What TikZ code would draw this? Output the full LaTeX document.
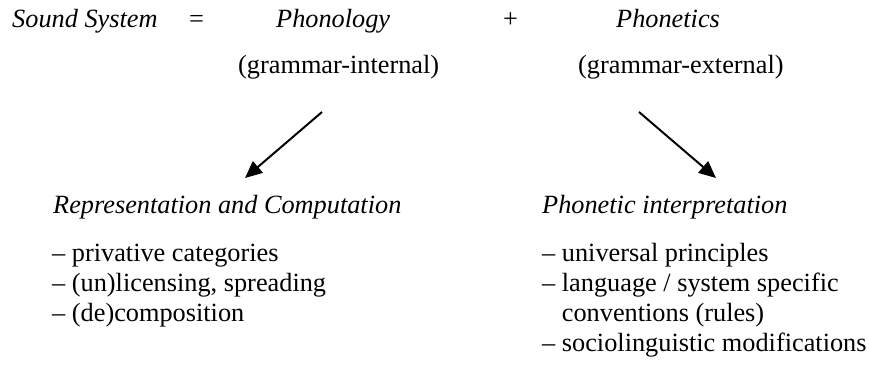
\documentclass[tikz,border=0pt]{standalone}
\usepackage{fontspec}
\setmainfont{Liberation Serif}
\usetikzlibrary{arrows.meta}
\begin{document}
\begin{tikzpicture}[x=1pt,y=-1pt,
  txt/.style={anchor=base west,inner sep=0pt,font=\fontsize{26.3}{30}\selectfont},
  itxt/.style={txt,font=\fontsize{26.3}{30}\selectfont\itshape},
  arr/.style={line width=2pt,-{Triangle[length=17pt,width=15pt]}}]
\useasboundingbox (0,0) rectangle (869,376);
\node[itxt] (ss) at (12,27) {Sound System};
\node[txt] (eq) at (189,27) {=};
\node[itxt] (phon) at (276,27) {Phonology};
\node[txt] (plus) at (503,27) {+};
\node[itxt] (phnt) at (616,27) {Phonetics};
\node[txt] (gi) at (238,73) {(grammar-internal)};
\node[txt] (ge) at (578,73) {(grammar-external)};
\coordinate (a1) at (322,112);
\coordinate (b1) at (245,178);
\coordinate (a2) at (639,112);
\coordinate (b2) at (716,178);
\draw[arr] (a1) -- (b1);
\draw[arr] (a2) -- (b2);
\node[itxt] (rc) at (53,213) {Representation and Computation};
\node[itxt] (pi) at (542,213) {Phonetic interpretation};
\node[txt] (l1) at (52,261) {-- privative categories};
\node[txt] (l2) at (52,291) {-- (un)licensing, spreading};
\node[txt] (l3) at (52,321) {-- (de)composition};
\node[txt] (r1) at (542,261) {-- universal principles};
\node[txt] (r2) at (542,291) {-- language / system specific};
\node[txt] (r3) at (561.7,321) {conventions (rules)};
\node[txt] (r4) at (542,351) {-- sociolinguistic modifications};
\end{tikzpicture}
\end{document}
